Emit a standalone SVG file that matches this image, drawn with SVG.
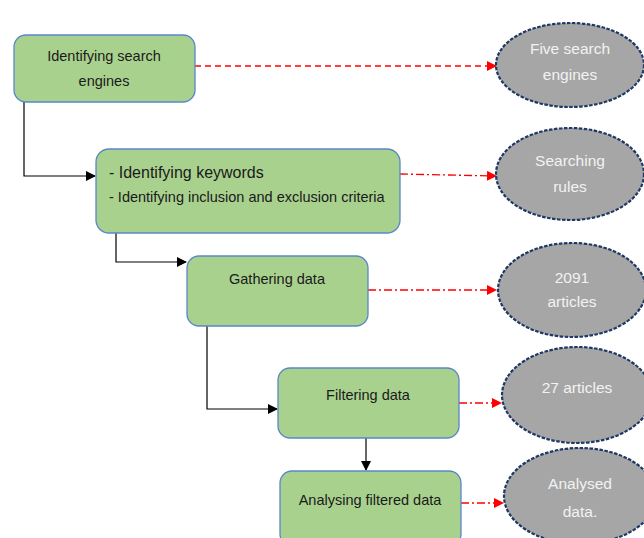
<svg xmlns="http://www.w3.org/2000/svg" width="644" height="538" viewBox="0 0 644 538">
<style>
.box{fill:#a9d18e;stroke:#5b87c9;stroke-width:1.3}
.ell{fill:#a6a6a6;stroke:#1f3864;stroke-width:2.2;stroke-dasharray:3.5 1.5}
.bt{font-family:"Liberation Sans",Arial,sans-serif;font-size:14.5px;fill:#1a1a1a;text-anchor:middle}
.et{font-family:"Liberation Sans",Arial,sans-serif;font-size:15.5px;fill:#f2f2f2;text-anchor:middle}
.blk{fill:none;stroke:#000;stroke-width:1.2}
.red{fill:none;stroke:#ff0000;stroke-width:1.3}
</style>
<defs>
<marker id="ab" markerWidth="10" markerHeight="10" refX="9" refY="5" orient="auto" markerUnits="userSpaceOnUse"><path d="M0,0 L10,5 L0,10 z" fill="#000"/></marker>
<marker id="ar" markerWidth="10" markerHeight="10" refX="9" refY="5" orient="auto" markerUnits="userSpaceOnUse"><path d="M0,0 L10,5 L0,10 z" fill="#ff0000"/></marker>
</defs>
<rect width="644" height="538" fill="#fff"/>
<g id="connectors">
<path class="blk" d="M24,102 V176 H95" marker-end="url(#ab)"/>
<path class="blk" d="M116,233 V262 H186" marker-end="url(#ab)"/>
<path class="blk" d="M207,326 V409 H277" marker-end="url(#ab)"/>
<path class="blk" d="M366,438 V470" marker-end="url(#ab)"/>
<path class="red" d="M195,66 H496" stroke-dasharray="6 4" marker-end="url(#ar)"/>
<path class="red" d="M400,174 L496,176" stroke-dasharray="8 3 2 3" marker-end="url(#ar)"/>
<path class="red" d="M368,290 H496" stroke-dasharray="8 3 2 3" marker-end="url(#ar)"/>
<path class="red" d="M459,403 H501" stroke-dasharray="8 3 2 3" marker-end="url(#ar)"/>
<path class="red" d="M461,503 H503" stroke-dasharray="8 3 2 3" marker-end="url(#ar)"/>
</g>
<g id="n1"><rect class="box" x="14" y="35" width="181" height="67" rx="12"/>
<text class="bt" x="104" y="61">Identifying search</text><text class="bt" x="104" y="86">engines</text></g>
<g id="n2"><rect class="box" x="96" y="149" width="304" height="84" rx="13"/>
<text class="bt" x="109" y="178" style="text-anchor:start;font-size:16px">- Identifying keywords</text>
<text class="bt" x="109" y="202" style="text-anchor:start">- Identifying inclusion and exclusion criteria</text></g>
<g id="n3"><rect class="box" x="187" y="256" width="181" height="70" rx="12"/>
<text class="bt" x="277" y="284">Gathering data</text></g>
<g id="n4"><rect class="box" x="278" y="368" width="181" height="70" rx="12"/>
<text class="bt" x="368" y="400">Filtering data</text></g>
<g id="n5"><rect class="box" x="280" y="471" width="181" height="75" rx="12"/>
<text class="bt" x="370" y="505">Analysing filtered data</text></g>
<g id="e1"><ellipse class="ell" cx="570" cy="65" rx="74" ry="42"/>
<text class="et" x="570" y="54">Five search</text><text class="et" x="570" y="80">engines</text></g>
<g id="e2"><ellipse class="ell" cx="570" cy="174" rx="74" ry="46"/>
<text class="et" x="570" y="166">Searching</text><text class="et" x="570" y="192">rules</text></g>
<g id="e3"><ellipse class="ell" cx="572" cy="290" rx="74" ry="47"/>
<text class="et" x="572" y="283">2091</text><text class="et" x="572" y="307">articles</text></g>
<g id="e4"><ellipse class="ell" cx="577" cy="395" rx="75" ry="48"/>
<text class="et" x="577" y="393">27 articles</text></g>
<g id="e5"><ellipse class="ell" cx="580" cy="496" rx="76" ry="48"/>
<text class="et" x="580" y="489">Analysed</text><text class="et" x="580" y="517">data.</text></g>
</svg>
